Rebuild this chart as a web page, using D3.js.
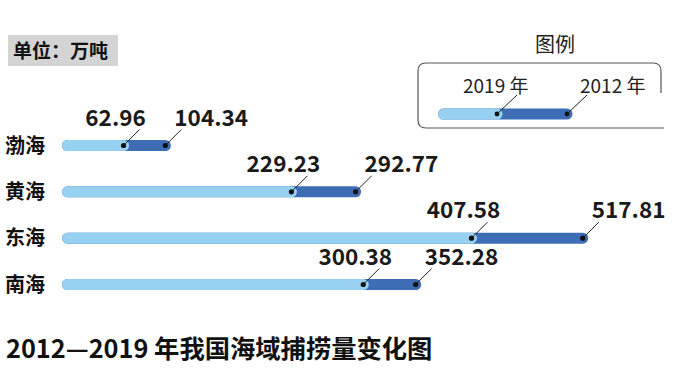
<!DOCTYPE html>
<html>
<head>
<meta charset="utf-8">
<script src="https://cdn.jsdelivr.net/npm/d3@7"></script>
<style>
    body { margin: 0; background: #fff; }
    svg { display: block; }
    text { font-family: "Noto Sans CJK SC", "Noto Sans", sans-serif; }
</style>
</head>
<body>
<div id="chart"></div>
<script>
// Catch per sea area, 10k tonnes
const seas = ["渤海", "黄海", "东海", "南海"];
const values2019 = [62.96, 229.23, 407.58, 300.38];
const values2012 = [104.34, 292.77, 517.81, 352.28];
const legendLabels = ["2019 年", "2012 年"];

const width = 700;
const height = 374;

const lightBlue = "#97d1f1";
const darkBlue = "#3c6db5";

const svg = d3.select("#chart")
    .append("svg")
    .attr("width", width)
    .attr("height", height);

const x = d3.scaleLinear()
    .domain([0, 520])
    .range([60, 585]);

const y = d3.scalePoint()
    .domain(seas)
    .range([145.5, 284.5]);

const barH = 11;
const r = barH / 2;

// Unit box
svg.append("rect")
    .attr("x", 8)
    .attr("y", 35)
    .attr("width", 110)
    .attr("height", 31)
    .attr("fill", "#d4d4d4");

svg.append("text")
    .attr("x", 13)
    .attr("y", 58)
    .attr("font-size", 19)
    .attr("font-weight", 700)
    .attr("fill", "#111")
    .text("单位：万吨");

// Category labels
svg.selectAll(".cat")
    .data(seas)
    .enter()
    .append("text")
    .attr("class", "cat")
    .attr("x", 5)
    .attr("y", function(d) { return y(d) + 7; })
    .attr("font-size", 20)
    .attr("font-weight", 700)
    .attr("fill", "#111")
    .text(function(d) { return d; });

// Bars: 2012 (dark) behind, 2019 (light) on top
const rows = seas.map(function(s, i) {
    return { sea: s, v2019: values2019[i], v2012: values2012[i] };
});

svg.selectAll(".bar2012")
    .data(rows)
    .enter()
    .append("rect")
    .attr("x", x(0) + 2)
    .attr("y", function(d) { return y(d.sea) - r; })
    .attr("width", function(d) { return x(d.v2012) + r - x(0) - 2; })
    .attr("height", barH)
    .attr("rx", r)
    .attr("fill", darkBlue);

svg.selectAll(".bar2019")
    .data(rows)
    .enter()
    .append("rect")
    .attr("x", x(0) + 2)
    .attr("y", function(d) { return y(d.sea) - r; })
    .attr("width", function(d) { return x(d.v2019) + r - x(0) - 2; })
    .attr("height", barH)
    .attr("rx", r)
    .attr("fill", lightBlue);

// Dots, leader lines, value labels
function addMarkers(key, anchor, dx) {
    const g = svg.append("g");

    g.selectAll("line")
        .data(rows)
        .enter()
        .append("line")
        .attr("x1", function(d) { return x(d[key]); })
        .attr("y1", function(d) { return y(d.sea); })
        .attr("x2", function(d) { return x(d[key]) + 16; })
        .attr("y2", function(d) { return y(d.sea) - 16; })
        .attr("stroke", "#222")
        .attr("stroke-width", 1);

    g.selectAll("circle")
        .data(rows)
        .enter()
        .append("circle")
        .attr("cx", function(d) { return x(d[key]); })
        .attr("cy", function(d) { return y(d.sea); })
        .attr("r", 2.6)
        .attr("fill", "#111");

    g.selectAll("text")
        .data(rows)
        .enter()
        .append("text")
        .attr("x", function(d) { return x(d[key]) + dx; })
        .attr("y", function(d) { return y(d.sea) - 20; })
        .attr("text-anchor", anchor)
        .attr("font-size", 22.5)
        .attr("font-weight", 700)
        .attr("fill", "#1a1a1a")
        .text(function(d) { return d3.format(".2f")(d[key]); });
}

addMarkers("v2019", "middle", -8);
addMarkers("v2012", "start", 9);

// Legend
svg.append("text")
    .attr("x", 555)
    .attr("y", 52)
    .attr("text-anchor", "middle")
    .attr("font-size", 20)
    .attr("fill", "#222")
    .text("图例");

svg.append("path")
    .attr("d", "M661,93 L661,71 Q661,63 653,63 L426,63 Q418,63 418,71 L418,120 Q418,128 426,128 L664,128")
    .attr("fill", "none")
    .attr("stroke", "#555")
    .attr("stroke-width", 1.2);

const legendBarY = 114;
const legendDots = [497, 567];

svg.append("rect")
    .attr("x", 438)
    .attr("y", legendBarY - r)
    .attr("width", legendDots[1] + r - 438)
    .attr("height", barH)
    .attr("rx", r)
    .attr("fill", darkBlue);

svg.append("rect")
    .attr("x", 438)
    .attr("y", legendBarY - r)
    .attr("width", legendDots[0] + r - 438)
    .attr("height", barH)
    .attr("rx", r)
    .attr("fill", lightBlue);

legendLabels.forEach(function(label, i) {
    const cx = legendDots[i];

    svg.append("line")
        .attr("x1", cx)
        .attr("y1", legendBarY)
        .attr("x2", cx + 20)
        .attr("y2", legendBarY - 19)
        .attr("stroke", "#222")
        .attr("stroke-width", 1);

    svg.append("circle")
        .attr("cx", cx)
        .attr("cy", legendBarY)
        .attr("r", 2.4)
        .attr("fill", "#111");

    svg.append("text")
        .attr("x", cx - 34 + i * 47)
        .attr("y", 93)
        .attr("font-size", 19)
        .attr("fill", "#222")
        .text(label);
});

// Title
svg.append("text")
    .attr("x", 6)
    .attr("y", 358)
    .attr("font-size", 25.3)
    .attr("font-weight", 700)
    .attr("fill", "#111")
    .text("2012—2019 年我国海域捕捞量变化图");
</script>
</body>
</html>
